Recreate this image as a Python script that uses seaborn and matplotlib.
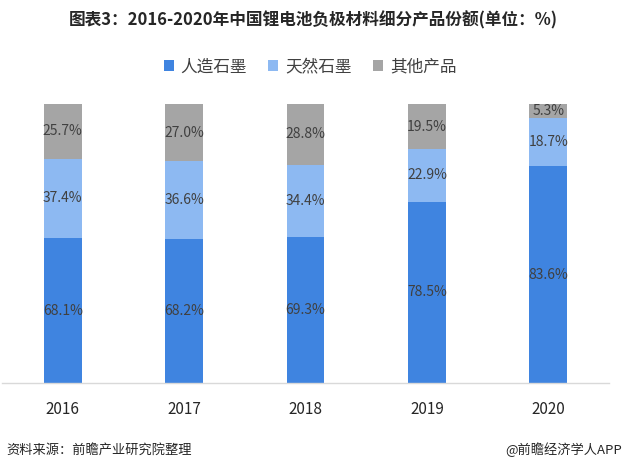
import matplotlib
matplotlib.use("Agg")
import matplotlib.pyplot as plt
import seaborn as sns
import pandas as pd
import numpy as np

years = ["2016", "2017", "2018", "2019", "2020"]
artificial = [68.1, 68.2, 69.3, 78.5, 83.6]
natural = [37.4, 36.6, 34.4, 22.9, 18.7]
other = [25.7, 27.0, 28.8, 19.5, 5.3]
series_names = ["人造石墨", "天然石墨", "其他产品"]
colors = ["#3F84E0", "#8DB9F2", "#A5A5A5"]

sns.set_theme(style="white")
plt.rcParams['font.family'] = ['Noto Sans CJK SC', 'DejaVu Sans']

df = pd.DataFrame({"year": years, "a": artificial, "n": natural, "o": other})
tot = df[["a", "n", "o"]].sum(axis=1)
df["ca"] = df["a"] / tot
df["cn"] = (df["a"] + df["n"]) / tot
df["co"] = (df["a"] + df["n"] + df["o"]) / tot

fig = plt.figure(figsize=(6.24, 4.72), dpi=100)
ax = fig.add_axes([2 / 624, (472 - 383) / 472, 607 / 624, (383 - 104) / 472])

W = 0.31
sns.barplot(data=df, x="year", y="co", color=colors[2], width=W, saturation=1, ax=ax,
            label=series_names[2], linewidth=0)
sns.barplot(data=df, x="year", y="cn", color=colors[1], width=W, saturation=1, ax=ax,
            label=series_names[1], linewidth=0)
sns.barplot(data=df, x="year", y="ca", color=colors[0], width=W, saturation=1, ax=ax,
            label=series_names[0], linewidth=0)

handles, labels = ax.get_legend_handles_labels()
hmap = dict(zip(labels, handles))
if ax.get_legend() is not None:
    ax.get_legend().remove()

txtc = "#404040"
for i in range(len(years)):
    lows = [0, df["ca"][i], df["cn"][i]]
    highs = [df["ca"][i], df["cn"][i], df["co"][i]]
    vals = [artificial[i], natural[i], other[i]]
    for lo, hi, v in zip(lows, highs, vals):
        ax.text(i, (lo + hi) / 2, f"{v:.1f}%", ha="center", va="center",
                fontsize=10, color=txtc)

ax.set_xlim(-0.5, len(years) - 0.5)
ax.set_ylim(0, 1)
ax.set_xlabel("")
ax.set_ylabel("")
ax.set_yticks([])
for s in ["top", "right", "left"]:
    ax.spines[s].set_visible(False)
ax.spines["bottom"].set_color("#D9D9D9")
ax.spines["bottom"].set_linewidth(1)
ax.tick_params(axis="x", length=0, pad=13, labelsize=11, labelcolor="#262626")
for t in ax.get_xticklabels():
    t.set_fontweight("medium")

fig.legend([hmap[n] for n in series_names], series_names, loc="center",
           bbox_to_anchor=(310 / 624, 1 - 67 / 472), ncol=3, frameon=False,
           fontsize=12, handlelength=0.6, handleheight=0.6, handletextpad=0.4,
           columnspacing=1.3, labelcolor="#404040")

fig.text(313 / 624, 1 - 20 / 472, "图表3：2016-2020年中国锂电池负极材料细分产品份额(单位：%)",
         ha="center", va="center", fontsize=12, fontweight="bold", color="#262626")
fig.text(6 / 624, 1 - 450 / 472, "资料来源：前瞻产业研究院整理", ha="left", va="center",
         fontsize=9.5, color="#262626")
fig.text(622 / 624, 1 - 450 / 472, "@前瞻经济学人APP", ha="right", va="center",
         fontsize=9.5, color="#262626")

fig.savefig("out.png", dpi=100)
